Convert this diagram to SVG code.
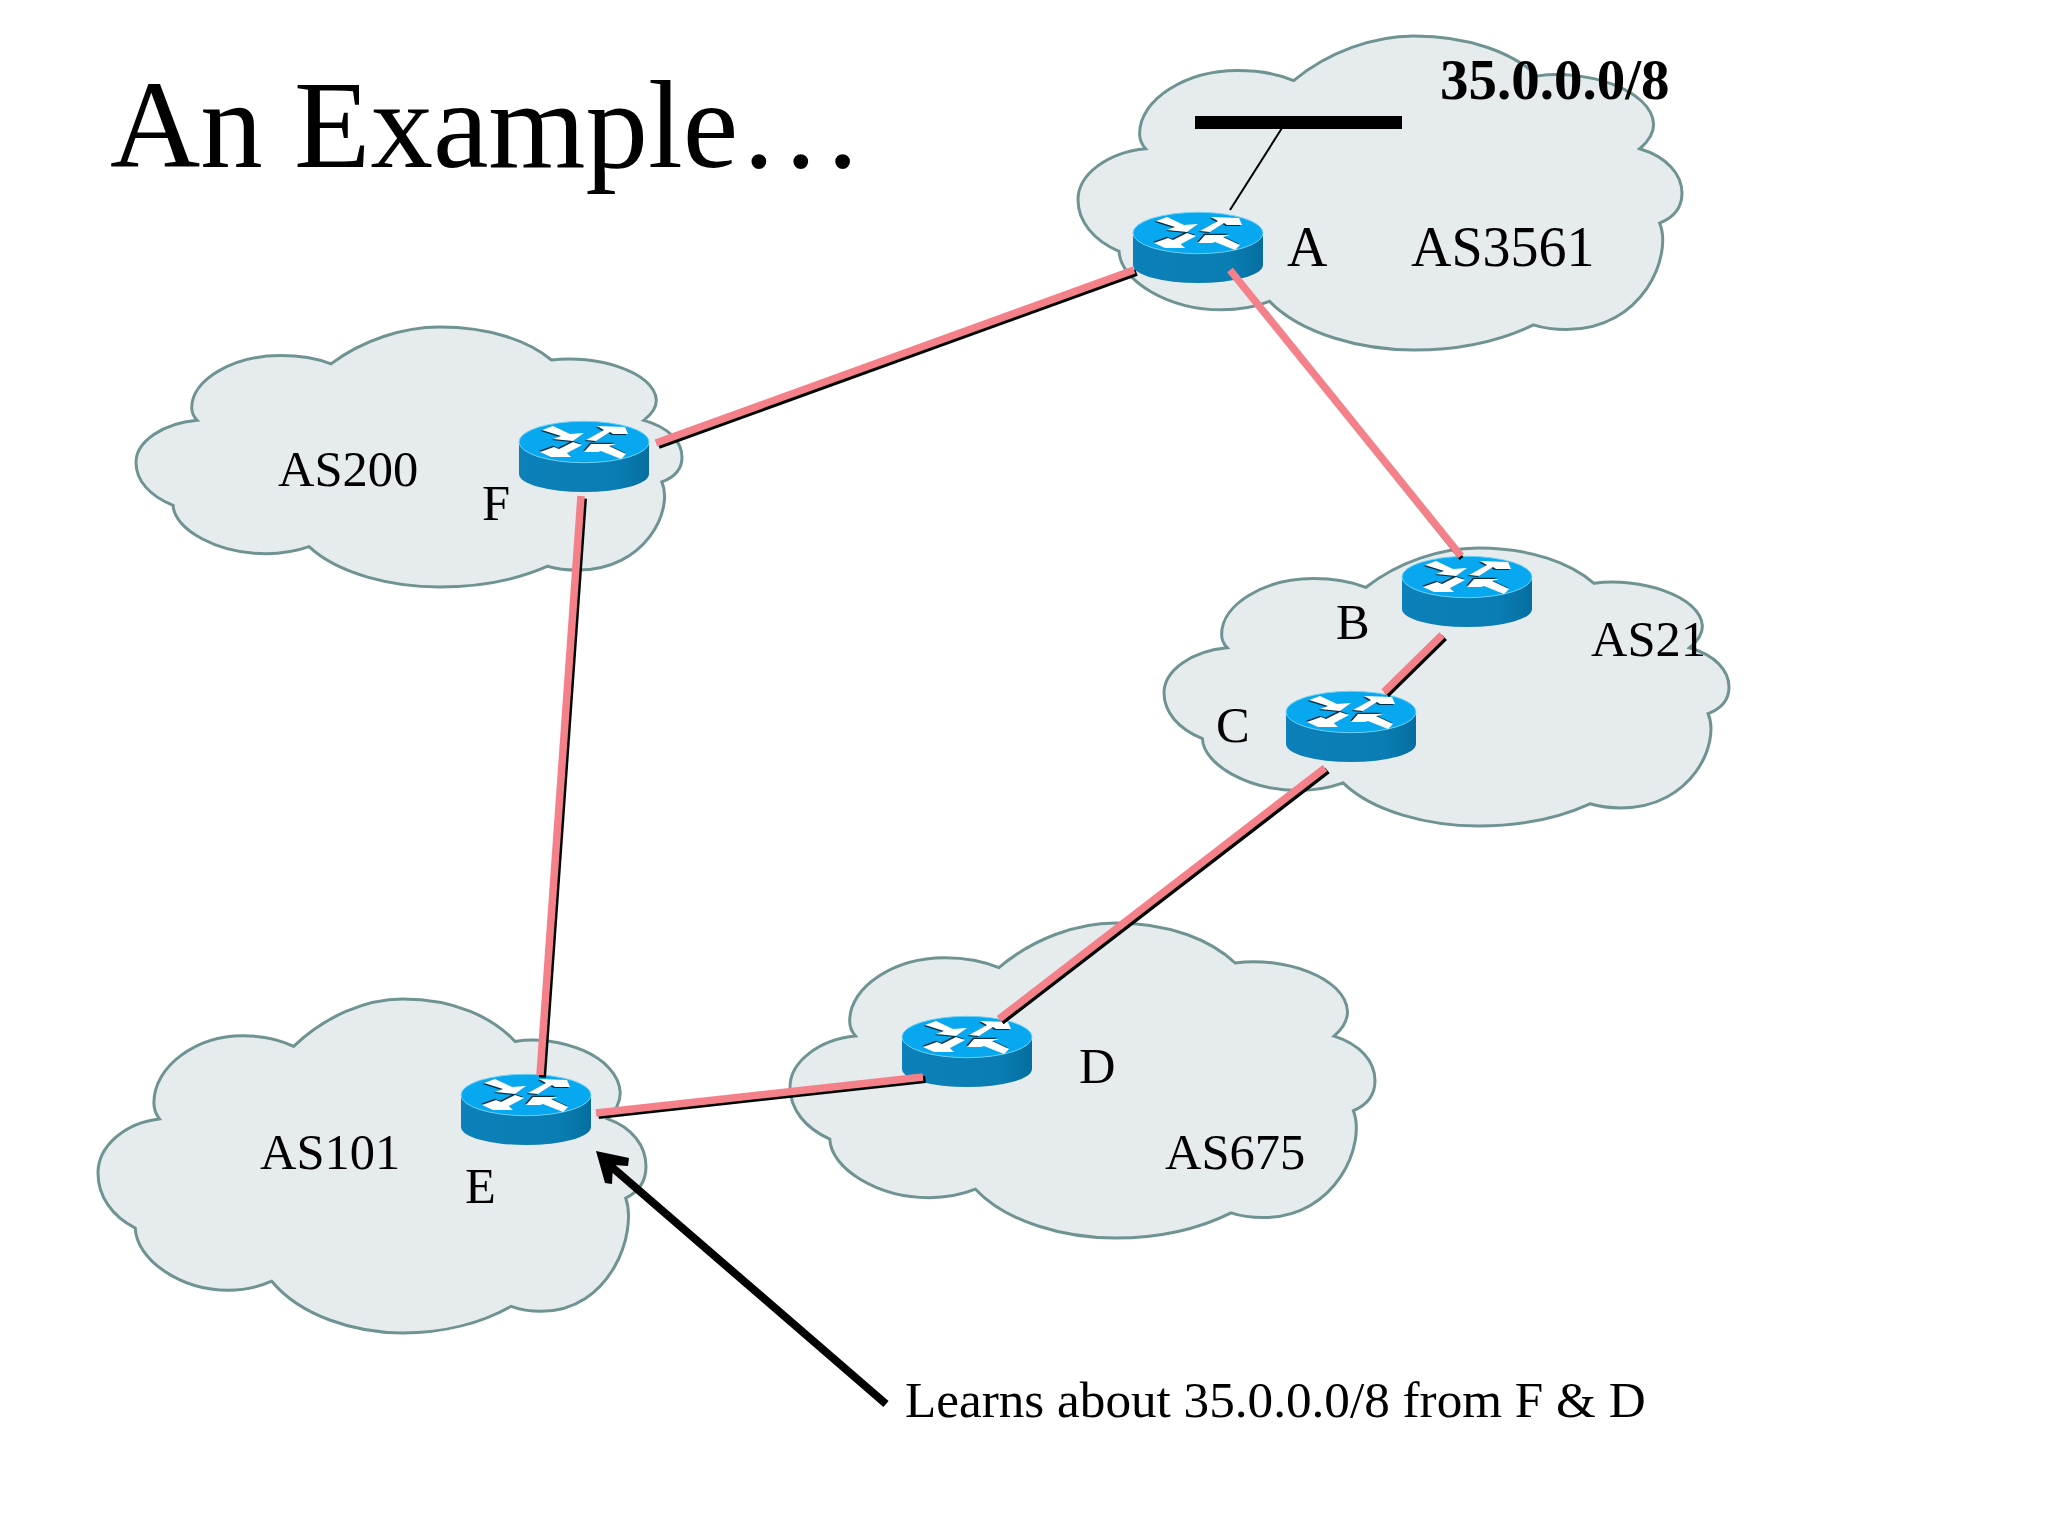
<svg xmlns="http://www.w3.org/2000/svg" xmlns:xlink="http://www.w3.org/1999/xlink" width="2048" height="1536" viewBox="0 0 2048 1536">
<style>
.t{font-family:"Liberation Serif","Times New Roman",serif;fill:#000;font-size:50.5px}
.cloud{fill:#e6ecee;stroke:#6f9393;stroke-width:3;vector-effect:non-scaling-stroke}
.sh{stroke:#000;stroke-width:7;fill:none}
.pk{stroke:#f4808a;stroke-width:7.5;fill:none}
</style>
<defs>
<path id="cloud" class="cloud" d="M357,142C415,50 490,0 556,0C650,0 720,55 761,127C840,105 950,170 953,281C953,310 945,335 930,359C975,385 1000,440 1000,501C1000,540 990,575 963,596C985,700 935,935 809,935C790,935 770,930 754,920C700,970 630,1000 556,1000C470,1000 370,950 317,845C290,865 265,872 238,872C150,872 70,780 68,686C25,650 0,590 0,521C0,440 50,370 112,359C103,340 102,325 102,311C102,200 180,110 264,110C295,110 330,120 357,142Z"/>
<linearGradient id="body" x1="0" x2="1" y1="0" y2="0">
<stop offset="0" stop-color="#0c80b8"/><stop offset="0.75" stop-color="#0a7db4"/><stop offset="1" stop-color="#066e9f"/>
</linearGradient>
<g id="arwU">
<polygon points="-42,-12 -31,-16 -14,-8 0,-9 -11,-1 -31,-3 -23,-6"/>
<polygon points="2,-2 20,-12 13,-16 41,-15 44,-8 29,-8 26,-10 12,-1"/>
</g>
<g id="arwL">
<polygon points="-44,10 -30,5 -25,7 -11,0 -2,3 -17,11 -13,15 -33,15"/>
<polygon points="0,10 7,2 32,2 25,4 42,12 37,17 17,9 14,10"/>
</g>
<g id="router">
<path d="M-65,0V32A65,18 0 0 0 65,32V0Z" fill="url(#body)"/>
<ellipse cx="0" cy="0" rx="65" ry="20.7" fill="#08a8f0" stroke="#6dd0f2" stroke-width="1"/>
<use href="#arwU" fill="#023048" transform="translate(-1.5,1)"/>
<use href="#arwL" fill="#023048" transform="translate(-1,-1.2)"/>
<use href="#arwU" fill="#fff"/>
<use href="#arwL" fill="#fff"/>
</g>
</defs>
<rect width="2048" height="1536" fill="#fff"/>
<g id="clouds">
<use id="cloud-AS3561" href="#cloud" transform="translate(1078,36) scale(.604,.314)"/>
<use id="cloud-AS200" href="#cloud" transform="translate(136,327) scale(.546,.26)"/>
<use id="cloud-AS21" href="#cloud" transform="translate(1164,548) scale(.565,.278)"/>
<use id="cloud-AS675" href="#cloud" transform="translate(790,923) scale(.585,.315)"/>
<use id="cloud-AS101" href="#cloud" transform="translate(98,999) scale(.548,.334)"/>
</g>
<g id="node-A"><use href="#router" x="1198" y="233"/></g>
<g id="node-B"><use href="#router" x="1467" y="577"/></g>
<g id="node-C"><use href="#router" x="1351" y="712"/></g>
<g id="node-D"><use href="#router" x="967" y="1037"/></g>
<g id="node-E"><use href="#router" x="526" y="1095"/></g>
<g id="node-F"><use href="#router" x="584" y="442"/></g>
<g id="network"><rect x="1195" y="116" width="207" height="13" fill="#000"/></g>
<g id="connectors">
<line x1="1282" y1="128" x2="1230" y2="210" stroke="#000" stroke-width="2"/>
<g class="sh" transform="translate(2.5,2.5)">
<line x1="1134" y1="270" x2="656" y2="443"/>
<line x1="1230" y1="270" x2="1459" y2="556" stroke-width="5"/>
<line x1="1442" y1="635" x2="1384" y2="692"/>
<line x1="1325" y1="768" x2="999" y2="1019"/>
<line x1="581" y1="496" x2="540" y2="1075"/>
<line x1="596" y1="1113" x2="923" y2="1077"/>
</g>
<g class="pk">
<line x1="1134" y1="270" x2="656" y2="443"/>
<line x1="1230" y1="270" x2="1461" y2="556"/>
<line x1="1442" y1="635" x2="1384" y2="692"/>
<line x1="1325" y1="768" x2="999" y2="1019"/>
<line x1="581" y1="496" x2="540" y2="1075"/>
<line x1="596" y1="1113" x2="923" y2="1077"/>
</g>
<line x1="886" y1="1404" x2="606" y2="1162" stroke="#000" stroke-width="8"/>
<polygon points="596,1151 629,1158 628,1166 613,1165 612,1184 605,1183" fill="#000"/>
</g>
<g id="labels">
<text class="t" x="110" y="167" style="font-size:125px">An Example…</text>
<text class="t" x="1440" y="99" style="font-size:57px;font-weight:bold">35.0.0.0/8</text>
<text class="t" x="1287" y="266" style="font-size:56px">A</text>
<text class="t" x="1411" y="266" style="font-size:56px">AS3561</text>
<text class="t" x="278" y="486">AS200</text>
<text class="t" x="482" y="520">F</text>
<text class="t" x="1591" y="656">AS21</text>
<text class="t" x="1336" y="639">B</text>
<text class="t" x="1216" y="742">C</text>
<text class="t" x="1165" y="1169">AS675</text>
<text class="t" x="1079" y="1083">D</text>
<text class="t" x="260" y="1169">AS101</text>
<text class="t" x="465" y="1203">E</text>
<text class="t" x="905" y="1417" style="font-size:51.2px">Learns about 35.0.0.0/8 from F &amp; D</text>
</g>
</svg>
